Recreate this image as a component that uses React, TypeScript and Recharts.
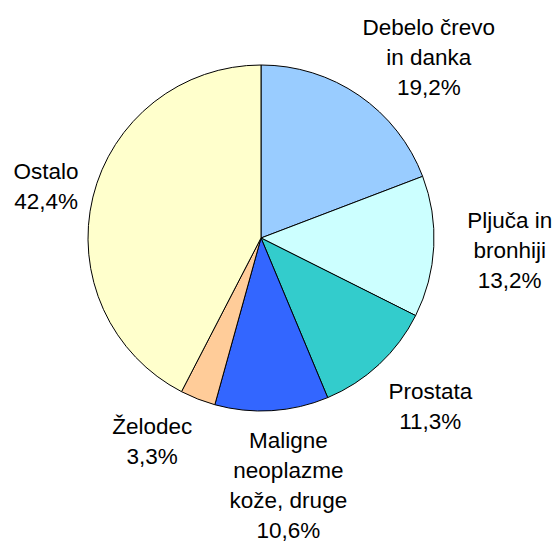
import { PieChart, Pie, Cell } from "recharts";

// delež novih primerov raka po lokaciji
const labelLines: string[][] = [
  ["Debelo črevo", "in danka"],
  ["Pljuča in", "bronhiji"],
  ["Prostata"],
  ["Maligne", "neoplazme", "kože, druge"],
  ["Želodec"],
  ["Ostalo"],
];
const shares = [19.2, 13.2, 11.3, 10.6, 3.3, 42.4];
const colors = ["#99CCFF", "#CCFFFF", "#33CCCC", "#3366FF", "#FFCC99", "#FFFFCC"];

// label nudges relative to a point just outside each slice
const labelNudge = [
  [47, -6],
  [36, 1],
  [24, 12],
  [14, 34],
  [-31, 4],
  [-8, -2],
];

const data = shares.map((v, i) => ({ name: labelLines[i].join(" "), value: v }));

const RADIAN = Math.PI / 180;
const FONT = 22.5;
const LH = 30;

const renderLabel = (props: any) => {
  const { cx, cy, midAngle, outerRadius, index, value } = props;
  const r = outerRadius + 40;
  const x = cx + r * Math.cos(-midAngle * RADIAN) + labelNudge[index][0];
  const y = cy + r * Math.sin(-midAngle * RADIAN) + labelNudge[index][1];
  const lines = [...labelLines[index], `${value.toFixed(1).replace(".", ",")}%`];
  const first = y + 8.25 - ((lines.length - 1) * LH) / 2;
  return (
    <text
      x={x}
      y={first}
      textAnchor="middle"
      fill="#000"
      fontSize={FONT}
      fontFamily="'Liberation Sans', Arial, sans-serif"
    >
      {lines.map((l, k) => (
        <tspan key={k} x={x} y={first + k * LH}>
          {l}
        </tspan>
      ))}
    </text>
  );
};

export default function App() {
  return (
    <div style={{ position: "absolute", left: 0, top: 0, background: "#fff" }}>
      <PieChart width={553} height={545} margin={{ top: 0, right: 0, bottom: 0, left: 0 }}>
        <Pie
          data={data}
          dataKey="value"
          cx={261}
          cy={238}
          outerRadius={173}
          startAngle={90}
          endAngle={-270}
          stroke="#000"
          strokeWidth={1}
          label={renderLabel}
          labelLine={false}
          isAnimationActive={false}
        >
          {data.map((d, i) => (
            <Cell key={d.name} fill={colors[i]} />
          ))}
        </Pie>
      </PieChart>
    </div>
  );
}
